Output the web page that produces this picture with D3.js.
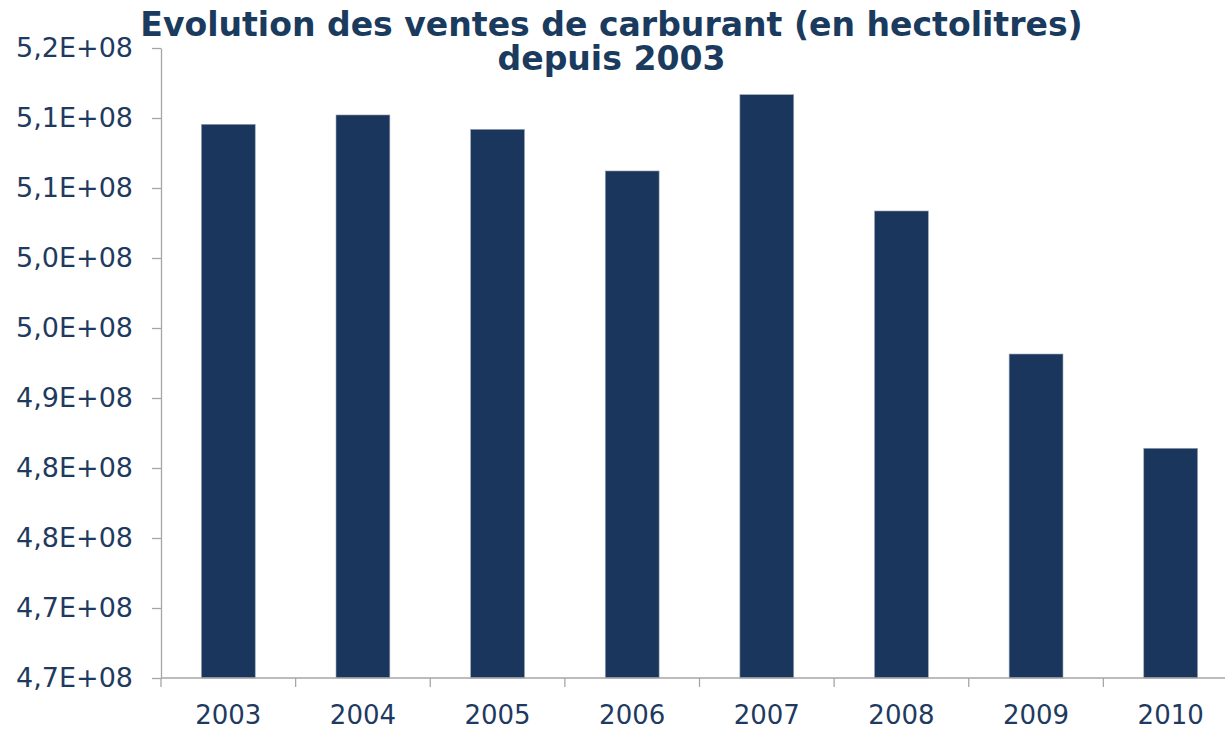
<!DOCTYPE html>
<html>
<head>
<meta charset="utf-8">
<script src="https://cdn.jsdelivr.net/npm/d3@7"></script>
<style>
  html, body { margin: 0; padding: 0; background: #ffffff; }
  svg { display: block; }
</style>
</head>
<body>
<svg id="chart" width="1225" height="729"></svg>
<script>
// ---- data ----
const years = ["2003", "2004", "2005", "2006", "2007", "2008", "2009", "2010"];
const sales = [5.1346e8, 5.1426e8, 5.1303e8, 5.0946e8, 5.1600e8, 5.0603e8, 4.9377e8, 4.8569e8];
const yTicks = [4.66e8, 4.72e8, 4.78e8, 4.84e8, 4.90e8, 4.96e8, 5.02e8, 5.08e8, 5.14e8, 5.20e8];
const titleLines = ["Evolution des ventes de carburant (en hectolitres)", "depuis 2003"];

(function () {
// ---- layout ----
const svg = d3.select("#chart");
const plotLeft = 161, plotRight = 1238, plotTop = 48, plotBottom = 678;
const navy = "#1b365d";
const textColor = "#1f3a5f";
const axisColor = "#a6a6a6";

const x = d3.scaleBand().domain(years).range([plotLeft, plotRight]).paddingInner(0.6).paddingOuter(0.3);
const y = d3.scaleLinear().domain([yTicks[0], yTicks[yTicks.length - 1]]).range([plotBottom, plotTop]);

const fmt = v => {
  const e = d3.format(".1e")(v);
  const [m, ex] = e.split("e");
  const n = parseInt(ex, 10);
  return m.replace(".", ",") + "E" + (n >= 0 ? "+" : "-") + String(Math.abs(n)).padStart(2, "0");
};

// bars
svg.append("g").selectAll("rect").data(years).join("rect")
  .attr("x", d => x(d))
  .attr("width", x.bandwidth())
  .attr("y", (d, i) => y(sales[i]))
  .attr("height", (d, i) => plotBottom - y(sales[i]))
  .attr("fill", navy)
  .attr("stroke", "#9aa6b6")
  .attr("stroke-width", 0.6);

// y axis
const yAxis = svg.append("g").attr("transform", `translate(${plotLeft},0)`)
  .call(d3.axisLeft(y).tickValues(yTicks).tickFormat(fmt).tickSize(9).tickPadding(19).tickSizeOuter(0));
yAxis.select(".domain").attr("stroke", axisColor).attr("stroke-width", 1.3);
yAxis.selectAll(".tick line").attr("stroke", axisColor).attr("stroke-width", 1.3);
yAxis.selectAll(".tick text")
  .attr("fill", textColor)
  .style("font-family", "'DejaVu Sans', Verdana, sans-serif")
  .style("font-size", "27px");

// x axis: ticks on band boundaries
const step = x.step();
const xAxis = svg.append("g").attr("transform", `translate(0,${plotBottom})`);
xAxis.append("line")
  .attr("x1", plotLeft).attr("x2", 1225)
  .attr("stroke", axisColor).attr("stroke-width", 1.3);
xAxis.selectAll("line.tk").data(years).join("line")
  .attr("class", "tk")
  .attr("x1", d => x(d) + x.bandwidth() / 2 - step / 2)
  .attr("x2", d => x(d) + x.bandwidth() / 2 - step / 2)
  .attr("y1", 0).attr("y2", 9)
  .attr("stroke", axisColor).attr("stroke-width", 1.3);
xAxis.selectAll("text").data(years).join("text")
  .attr("x", d => x(d) + x.bandwidth() / 2)
  .attr("y", 46)
  .attr("text-anchor", "middle")
  .attr("fill", textColor)
  .style("font-family", "'DejaVu Sans', Verdana, sans-serif")
  .style("font-size", "26px")
  .text(d => d);

// title
const title = svg.append("g");
const tl1 = title.append("text")
  .attr("x", 611.5).attr("y", 36)
  .attr("text-anchor", "middle")
  .attr("fill", "#1a3a5e")
  .style("font-family", "'DejaVu Sans', Verdana, sans-serif")
  .style("font-weight", "bold")
  .style("font-size", "30px")
  .text(titleLines[0]);
const w = tl1.node().getComputedTextLength();
const fs = 30 * 943 / w;
tl1.style("font-size", fs + "px");
title.append("text")
  .attr("x", 611.5).attr("y", 70)
  .attr("text-anchor", "middle")
  .attr("fill", "#1a3a5e")
  .style("font-family", "'DejaVu Sans', Verdana, sans-serif")
  .style("font-weight", "bold")
  .style("font-size", fs + "px")
  .text(titleLines[1]);
})();
</script>
</body>
</html>
